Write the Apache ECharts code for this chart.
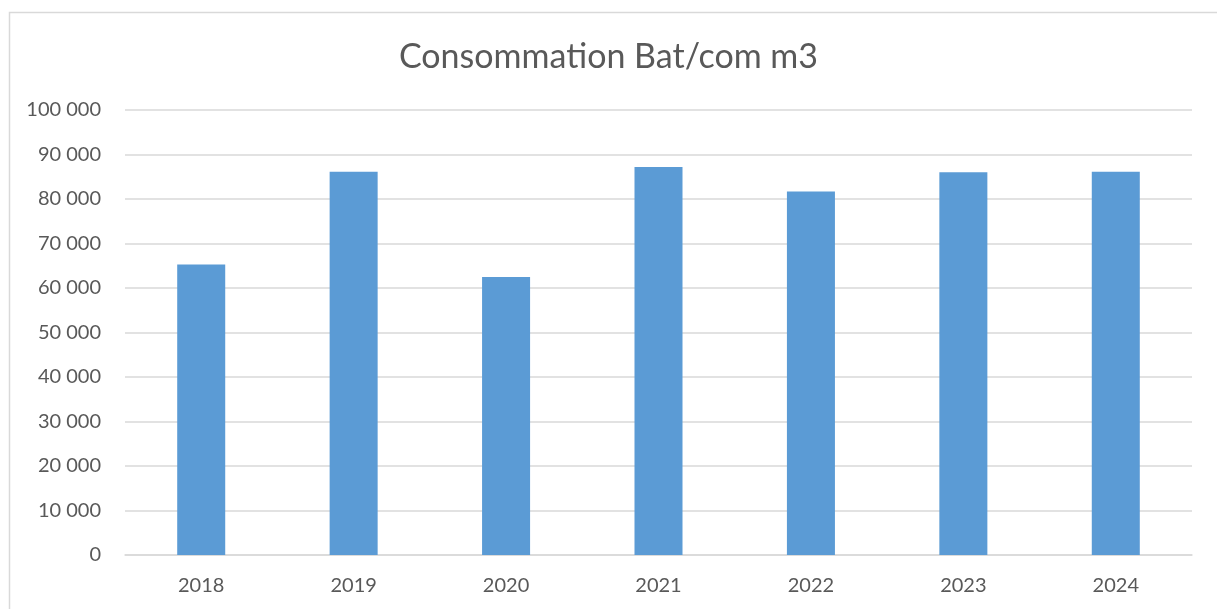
<!DOCTYPE html>
<html>
<head>
<meta charset="utf-8">
<script src="https://cdn.jsdelivr.net/npm/echarts@6/dist/echarts.min.js"></script>
<style>
html,body{margin:0;padding:0;background:#fff;}
#chart{width:1217px;height:609px;}
</style>
</head>
<body>
<div id="chart"></div>
<script>
const titleText = 'Consommation Bat/com m3';
const categories = ['2018','2019','2020','2021','2022','2023','2024'];
const values = [65300, 86100, 62500, 87200, 81700, 86000, 86100];
const yTicks = [0,10000,20000,30000,40000,50000,60000,70000,80000,90000,100000];

const fmt = v => String(v).replace(/\B(?=(\d{3})+(?!\d))/g, ' ');
const chart = echarts.init(document.getElementById('chart'));
chart.setOption({
  animation: false,
  backgroundColor: '#fff',
  graphic: [{
    type: 'rect', left: 7, top: 10, shape: {width: 1230, height: 620},
    style: {fill: 'none', stroke: '#d9d9d9', lineWidth: 1.5}, silent: true, z: -1
  }],
  title: {
    text: titleText, left: 'center', top: 35,
    textStyle: {fontFamily: 'Lato', fontSize: 34, fontWeight: 'normal', color: '#595959'}
  },
  grid: {left: 125, right: 25, top: 110, bottom: 54, containLabel: false},
  xAxis: {
    type: 'category', data: categories,
    axisLine: {lineStyle: {color: '#d9d9d9', width: 1.5}},
    axisTick: {show: false},
    axisLabel: {color: '#595959', fontFamily: 'Lato', fontSize: 20, margin: 21}
  },
  yAxis: {
    type: 'value', min: yTicks[0], max: yTicks[yTicks.length-1], interval: 10000,
    axisLine: {show: false}, axisTick: {show: false},
    splitLine: {lineStyle: {color: '#d9d9d9', width: 1.5}},
    axisLabel: {color: '#595959', fontFamily: 'Lato', fontSize: 20, margin: 24, formatter: fmt}
  },
  series: [{
    type: 'bar', data: values, barWidth: '31.5%',
    itemStyle: {color: '#5b9bd5'}
  }]
});
</script>
</body>
</html>
